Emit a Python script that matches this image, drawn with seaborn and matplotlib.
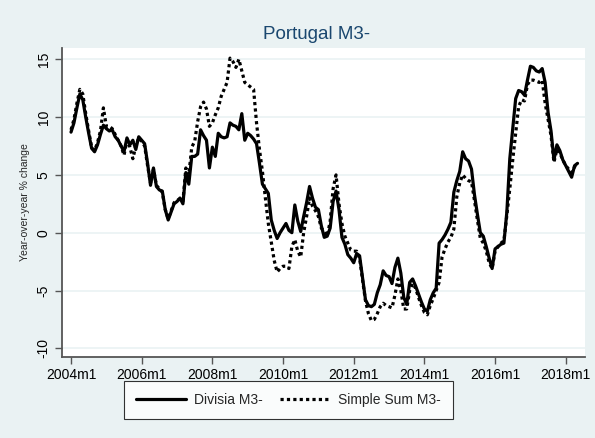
import numpy as np
import pandas as pd
import matplotlib
matplotlib.use("Agg")
import matplotlib.pyplot as plt
import seaborn as sns

# Portugal M3- : year-over-year % change, monthly 2004m1 - 2018m5
start_year = 2004

divisia = [
    8.7, 9.5, 10.8, 12.0, 11.5, 10.0, 8.6, 7.3, 7.0, 7.6, 8.5, 9.3,      # 2004
    9.0, 8.8, 8.9, 8.3, 8.0, 7.5, 7.0, 8.2, 7.6, 8.0, 7.2, 8.3,          # 2005
    8.0, 7.7, 6.0, 4.1, 5.6, 4.0, 3.7, 3.6, 2.0, 1.1, 1.8, 2.5,          # 2006
    2.7, 3.0, 2.5, 5.2, 4.2, 6.6, 6.6, 6.8, 8.9, 8.4, 8.0, 5.6,          # 2007
    7.4, 6.6, 8.6, 8.3, 8.2, 8.3, 9.5, 9.3, 9.2, 8.9, 10.3, 8.0,         # 2008
    8.6, 8.4, 8.1, 7.7, 6.0, 4.2, 3.8, 3.4, 1.1, 0.2, -0.5, 0.0,         # 2009
    0.4, 0.8, 0.2, 0.0, 2.4, 1.0, 0.1, 1.4, 2.6, 4.0, 3.0, 2.2,          # 2010
    2.0, 0.6, -0.4, -0.3, 0.4, 2.7, 3.6, 2.0, -0.4, -1.0, -1.9, -2.2,    # 2011
    -2.6, -1.8, -2.0, -3.9, -5.8, -6.3, -6.4, -6.2, -5.2, -4.5, -3.3, -3.7,  # 2012
    -3.8, -4.4, -3.0, -2.2, -3.5, -5.6, -6.2, -4.3, -4.0, -4.6, -5.3, -6.0,  # 2013
    -6.6, -6.8, -5.8, -5.2, -4.8, -0.9, -0.6, -0.2, 0.3, 0.9, 3.5, 4.5,  # 2014
    5.3, 7.0, 6.4, 6.2, 5.5, 3.3, 1.6, 0.0, -0.3, -1.2, -2.2, -3.1,      # 2015
    -1.4, -1.2, -1.0, -0.9, 1.8, 6.4, 9.0, 11.6, 12.3, 12.2, 11.9, 13.2, # 2016
    14.4, 14.3, 14.0, 13.9, 14.2, 13.0, 10.4, 8.8, 6.3, 7.6, 7.1, 6.3,   # 2017
    5.8, 5.3, 4.8, 5.8, 6.0,                                             # 2018
]

simple_sum = [
    8.9, 9.8, 11.2, 12.4, 12.0, 10.3, 8.8, 7.4, 7.1, 7.8, 8.8, 10.8,     # 2004
    9.2, 9.2, 9.0, 8.5, 8.0, 7.5, 6.7, 8.0, 7.4, 6.4, 7.5, 8.2,          # 2005
    7.9, 7.5, 5.8, 4.3, 5.5, 4.1, 3.8, 3.5, 2.0, 1.2, 1.9, 2.6,          # 2006
    2.8, 2.9, 2.7, 5.6, 5.0, 7.4, 7.9, 9.6, 10.9, 11.3, 10.7, 9.2,       # 2007
    9.5, 10.2, 10.8, 11.8, 12.4, 13.0, 15.1, 14.8, 14.3, 15.0, 14.0, 13.0,  # 2008
    12.8, 12.6, 12.4, 9.5, 7.2, 5.3, 3.0, 0.8, -0.8, -2.4, -3.4, -3.1,   # 2009
    -2.9, -2.9, -3.1, -1.2, -0.6, -1.6, -2.1, 0.0, 1.4, 3.0, 2.3, 1.9,   # 2010
    1.4, 0.4, 0.1, -0.3, 1.0, 3.8, 5.0, 2.5, 0.8, -0.3, -0.9, -1.5,      # 2011
    -1.6, -1.6, -2.2, -4.1, -5.9, -7.0, -7.6, -7.5, -7.0, -6.4, -6.1, -6.3,  # 2012
    -6.4, -6.5, -5.4, -4.0, -5.0, -6.6, -6.6, -5.0, -4.4, -4.8, -5.6, -6.3,  # 2013
    -6.9, -7.1, -6.3, -5.7, -5.0, -4.3, -2.1, -1.4, -0.8, -0.4, 0.3, 3.1,    # 2014
    4.3, 5.0, 4.7, 4.5, 4.4, 2.8, 1.1, -0.5, -0.9, -1.6, -2.6, -3.1,     # 2015
    -1.6, -1.2, -0.9, -0.7, 1.5, 3.8, 6.3, 8.6, 10.9, 11.5, 11.4, 12.8,  # 2016
    13.2, 13.2, 13.1, 13.0, 13.2, 11.2, 9.8, 8.4, 6.1, 7.2, 6.9, 6.3,    # 2017
    5.8, 5.5, 5.2, 5.7, 6.0,                                             # 2018
]

tick_years = [2004, 2006, 2008, 2010, 2012, 2014, 2016, 2018]
tick_labels = [f"{y}m1" for y in tick_years]
y_ticks = [-10, -5, 0, 5, 10, 15]

# months since 2004m1
df = pd.DataFrame({
    "month": np.arange(len(divisia)),
    "divisia": divisia,
    "simple": simple_sum,
})

bg = "#EAF2F3"
navy = "#1A476F"

sns.set_theme(style="white")
plt.rcParams["font.family"] = ["Liberation Sans", "DejaVu Sans"]

fig = plt.figure(figsize=(5.95, 4.38), dpi=100, facecolor=bg)
ax = fig.add_axes([0.104, 0.185, 0.879, 0.706])
ax.set_facecolor("white")

sns.lineplot(data=df, x="month", y="divisia", ax=ax, color="black",
             linewidth=2.3, label="Divisia M3-")
sns.lineplot(data=df, x="month", y="simple", ax=ax, color="black",
             linewidth=2.3, linestyle=(0, (1, 1)), label="Simple Sum M3-")

ax.set_xlim(-3.1, 174.5)
ax.set_ylim(-10.75, 16.0)
ax.set_xticks([(y - start_year) * 12 for y in tick_years])
ax.set_xticklabels(tick_labels, fontsize=10)
ax.set_yticks(y_ticks)
ax.set_yticklabels([str(v) for v in y_ticks], fontsize=10, rotation=90, va="center")
ax.grid(axis="y", color=bg, linewidth=1.2)
ax.grid(axis="x", visible=False)
ax.set_axisbelow(True)

for s in ["top", "right"]:
    ax.spines[s].set_visible(False)
for s in ["left", "bottom"]:
    ax.spines[s].set_color("#555555")
    ax.spines[s].set_linewidth(1.3)
ax.tick_params(axis="both", direction="out", length=5, width=1.0, color="#555555",
               labelcolor="black", pad=3, bottom=True, left=True)

ax.set_xlabel("")
ax.set_ylabel("Year-over-year % change", fontsize=7.5, labelpad=5)
ax.set_title("Portugal M3-", fontsize=13.5, color=navy, pad=6, x=0.487)

ax.legend_.remove()
handles, labels = ax.get_legend_handles_labels()
leg = fig.legend(handles, labels, loc="center", bbox_to_anchor=(0.485, 0.087),
                 ncol=2, frameon=True, fontsize=10, handlelength=3.6,
                 columnspacing=1.2, borderpad=0.55, handletextpad=0.6)
leg.get_frame().set_edgecolor("black")
leg.get_frame().set_linewidth(0.8)
leg.get_frame().set_boxstyle("square")

fig.savefig("out.png", dpi=100, facecolor=bg)
